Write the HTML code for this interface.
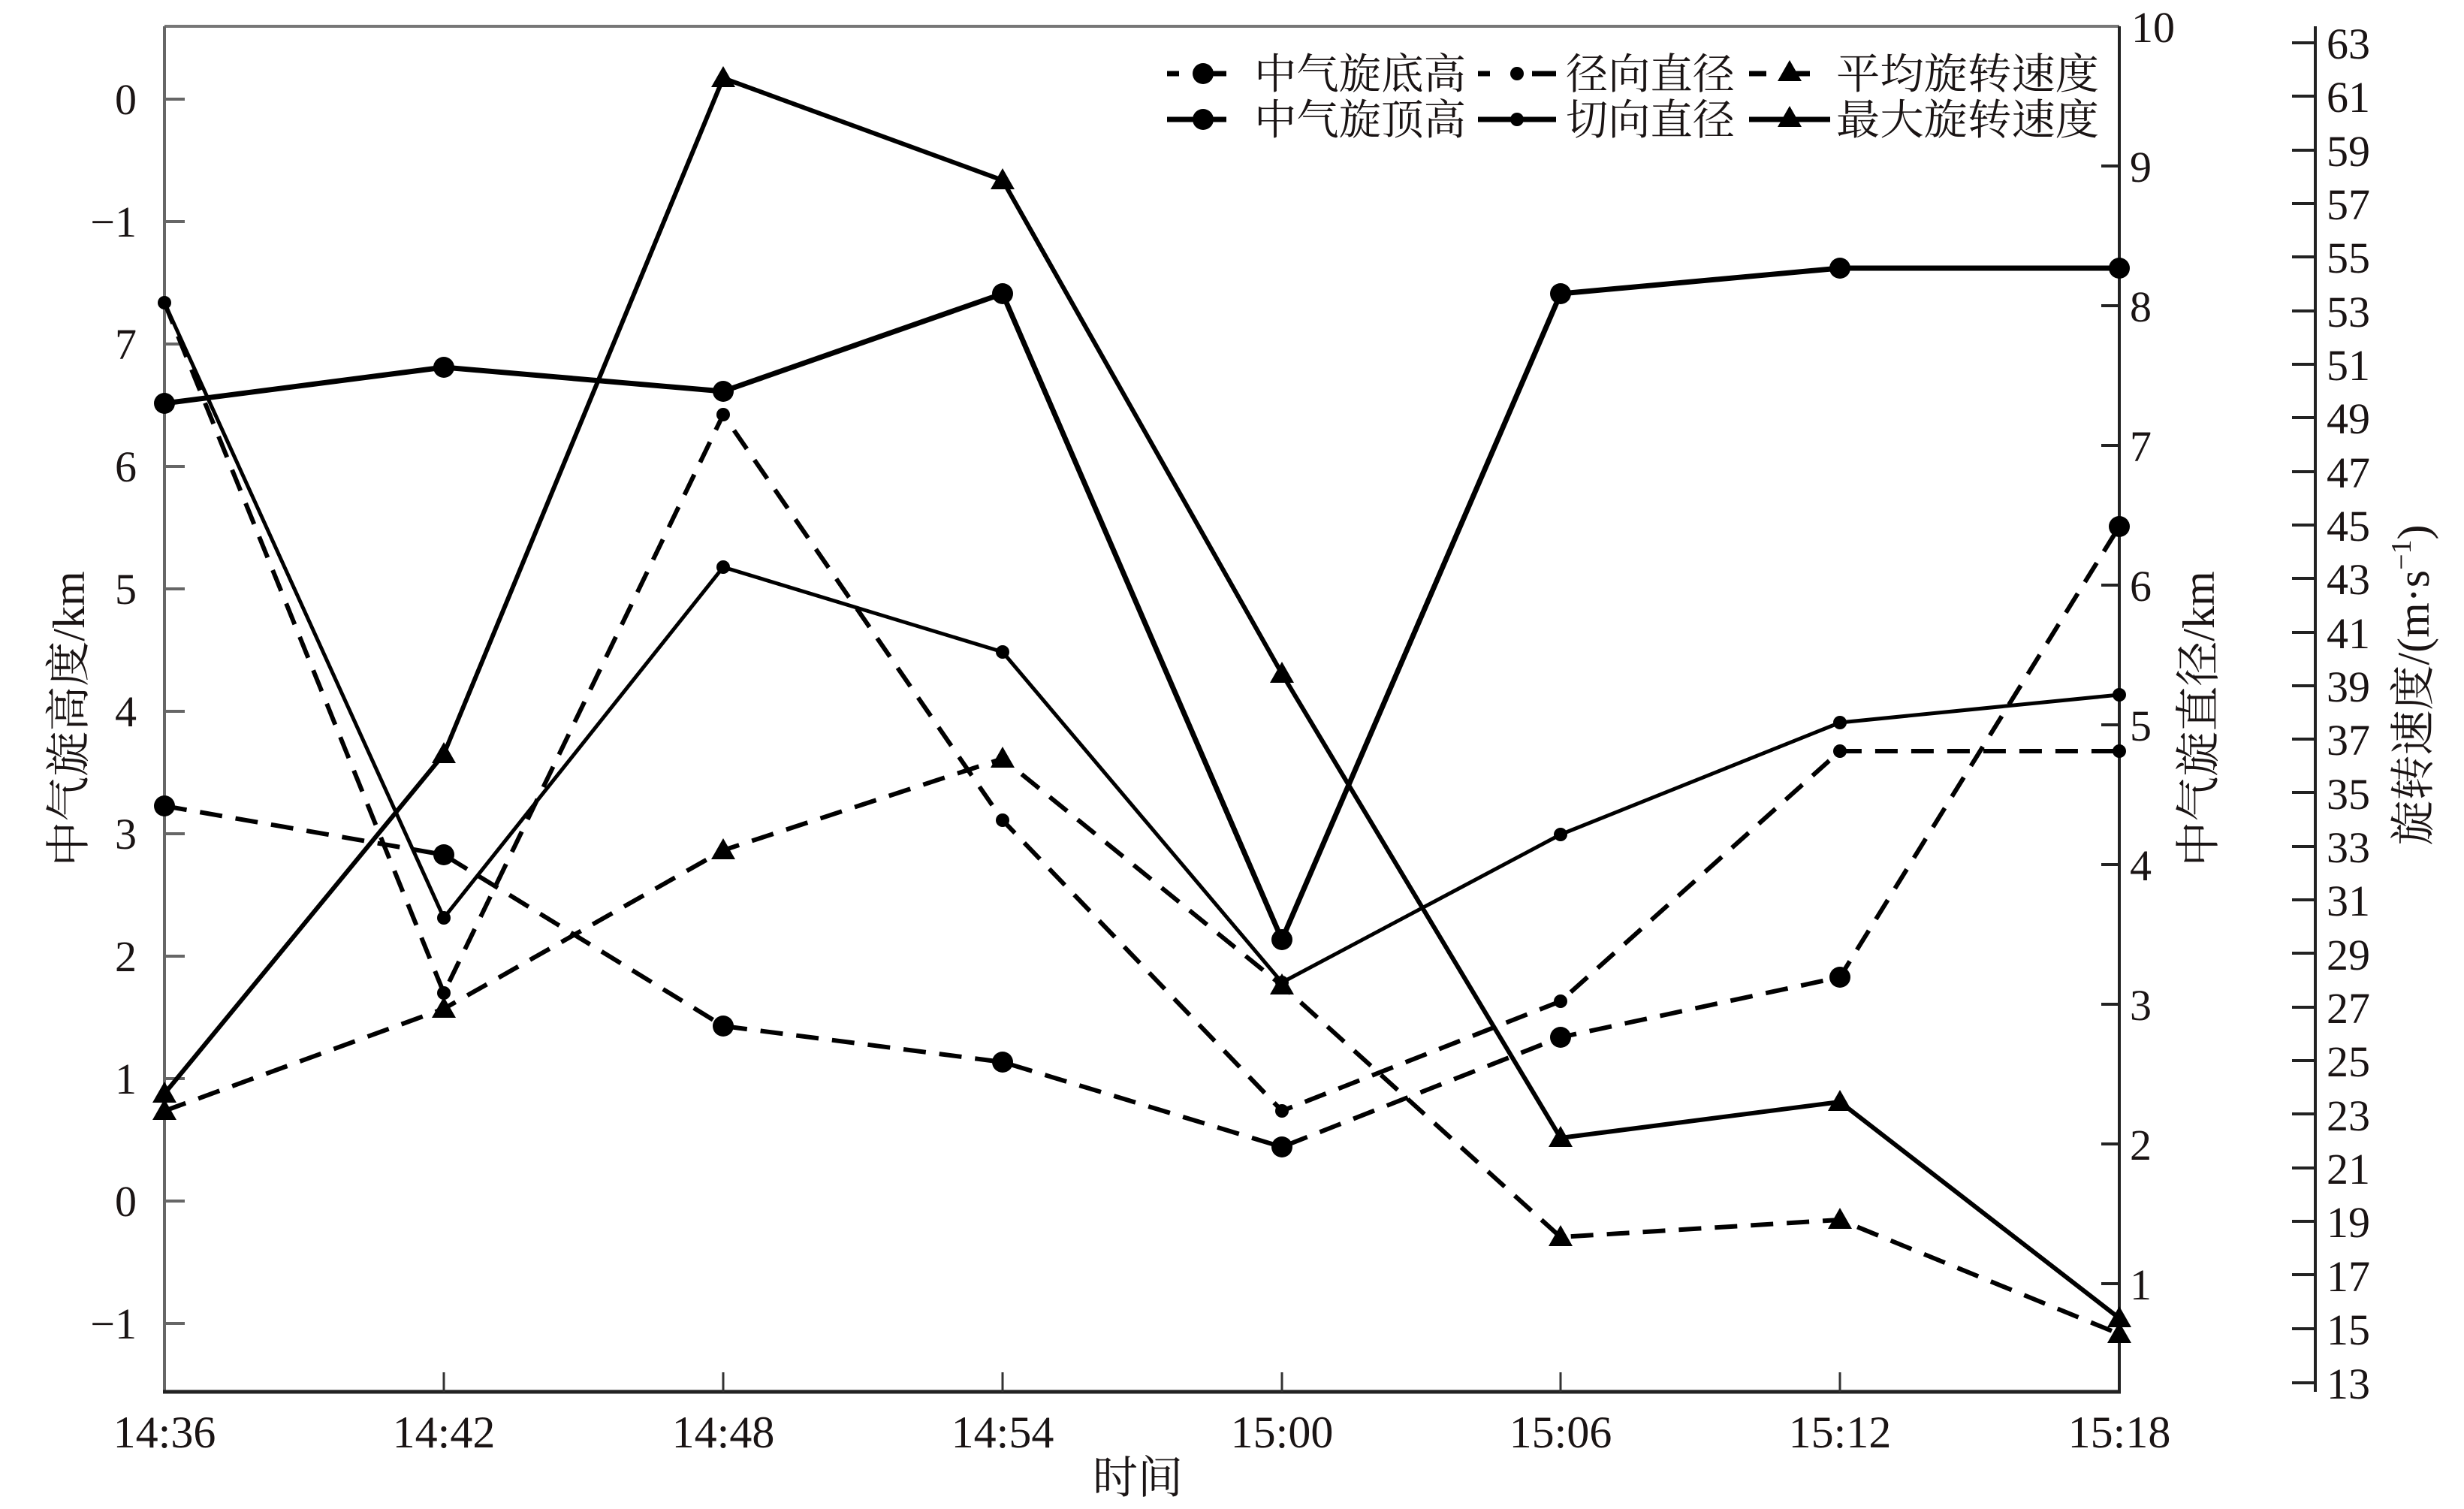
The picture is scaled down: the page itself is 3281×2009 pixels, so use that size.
<!DOCTYPE html>
<html><head><meta charset="utf-8"><style>
html,body{margin:0;padding:0;background:#fff;}
svg{display:block;}
text{font-family:"Liberation Serif","Noto Serif CJK SC","Noto Sans CJK SC",serif;fill:#1a1414;}
</style></head><body>
<svg width="3281" height="2009" viewBox="0 0 3281 2009" xmlns="http://www.w3.org/2000/svg">
<rect width="3281" height="2009" fill="#fff"/>
<line x1="219" y1="35" x2="2822" y2="35" stroke="#777" stroke-width="4"/>
<line x1="219" y1="35" x2="219" y2="1853" stroke="#666" stroke-width="4"/>
<line x1="217" y1="1853" x2="2824" y2="1853" stroke="#222" stroke-width="5"/>
<line x1="2822" y1="35" x2="2822" y2="1853" stroke="#222" stroke-width="4"/>
<line x1="3083" y1="35" x2="3083" y2="1853" stroke="#222" stroke-width="4"/>
<g stroke="#666" stroke-width="4">
<line x1="219" y1="132" x2="246" y2="132"/><line x1="219" y1="295" x2="246" y2="295"/>
<line x1="219" y1="458" x2="246" y2="458"/><line x1="219" y1="621" x2="246" y2="621"/>
<line x1="219" y1="784" x2="246" y2="784"/><line x1="219" y1="947" x2="246" y2="947"/>
<line x1="219" y1="1110" x2="246" y2="1110"/><line x1="219" y1="1273" x2="246" y2="1273"/>
<line x1="219" y1="1436" x2="246" y2="1436"/><line x1="219" y1="1599" x2="246" y2="1599"/>
<line x1="219" y1="1762" x2="246" y2="1762"/>
</g>
<g font-size="58" text-anchor="end">
<text x="182" y="152">0</text><text x="182" y="315">−1</text><text x="182" y="478">7</text>
<text x="182" y="641">6</text><text x="182" y="804">5</text><text x="182" y="967">4</text>
<text x="182" y="1130">3</text><text x="182" y="1293">2</text><text x="182" y="1456">1</text>
<text x="182" y="1619">0</text><text x="182" y="1782">−1</text>
</g>
<g stroke="#333" stroke-width="3">
<line x1="591" y1="1853" x2="591" y2="1827"/><line x1="963" y1="1853" x2="963" y2="1827"/>
<line x1="1335" y1="1853" x2="1335" y2="1827"/><line x1="1707" y1="1853" x2="1707" y2="1827"/>
<line x1="2078" y1="1853" x2="2078" y2="1827"/><line x1="2450" y1="1853" x2="2450" y2="1827"/>
</g>
<g font-size="60" text-anchor="middle">
<text x="219" y="1927">14:36</text><text x="591" y="1927">14:42</text><text x="963" y="1927">14:48</text>
<text x="1335" y="1927">14:54</text><text x="1707" y="1927">15:00</text><text x="2078" y="1927">15:06</text>
<text x="2450" y="1927">15:12</text><text x="2822" y="1927">15:18</text>
</g>
<text x="1515" y="1988" font-size="60" text-anchor="middle">时间</text>
<g stroke="#222" stroke-width="4">
<line x1="2822" y1="221" x2="2798" y2="221"/><line x1="2822" y1="407" x2="2798" y2="407"/>
<line x1="2822" y1="593" x2="2798" y2="593"/><line x1="2822" y1="779" x2="2798" y2="779"/>
<line x1="2822" y1="965" x2="2798" y2="965"/><line x1="2822" y1="1151" x2="2798" y2="1151"/>
<line x1="2822" y1="1337" x2="2798" y2="1337"/><line x1="2822" y1="1523" x2="2798" y2="1523"/>
<line x1="2822" y1="1709" x2="2798" y2="1709"/>
</g>
<g font-size="58">
<text x="2838" y="56">10</text><text x="2836" y="242">9</text><text x="2836" y="428">8</text>
<text x="2836" y="614">7</text><text x="2836" y="800">6</text><text x="2836" y="986">5</text>
<text x="2836" y="1172">4</text><text x="2836" y="1358">3</text><text x="2836" y="1544">2</text>
<text x="2836" y="1730">1</text>
</g>
<g stroke="#222" stroke-width="4">
<line x1="3083" y1="57" x2="3052" y2="57"/><line x1="3083" y1="128" x2="3052" y2="128"/>
<line x1="3083" y1="200" x2="3052" y2="200"/><line x1="3083" y1="271" x2="3052" y2="271"/>
<line x1="3083" y1="342" x2="3052" y2="342"/><line x1="3083" y1="414" x2="3052" y2="414"/>
<line x1="3083" y1="485" x2="3052" y2="485"/><line x1="3083" y1="556" x2="3052" y2="556"/>
<line x1="3083" y1="628" x2="3052" y2="628"/><line x1="3083" y1="699" x2="3052" y2="699"/>
<line x1="3083" y1="770" x2="3052" y2="770"/><line x1="3083" y1="842" x2="3052" y2="842"/>
<line x1="3083" y1="913" x2="3052" y2="913"/><line x1="3083" y1="984" x2="3052" y2="984"/>
<line x1="3083" y1="1055" x2="3052" y2="1055"/><line x1="3083" y1="1127" x2="3052" y2="1127"/>
<line x1="3083" y1="1198" x2="3052" y2="1198"/><line x1="3083" y1="1269" x2="3052" y2="1269"/>
<line x1="3083" y1="1341" x2="3052" y2="1341"/><line x1="3083" y1="1412" x2="3052" y2="1412"/>
<line x1="3083" y1="1483" x2="3052" y2="1483"/><line x1="3083" y1="1555" x2="3052" y2="1555"/>
<line x1="3083" y1="1626" x2="3052" y2="1626"/><line x1="3083" y1="1697" x2="3052" y2="1697"/>
<line x1="3083" y1="1769" x2="3052" y2="1769"/><line x1="3083" y1="1841" x2="3052" y2="1841"/>
</g>
<g font-size="58">
<text x="3098" y="78">63</text><text x="3098" y="149">61</text><text x="3098" y="221">59</text>
<text x="3098" y="292">57</text><text x="3098" y="363">55</text><text x="3098" y="435">53</text>
<text x="3098" y="506">51</text><text x="3098" y="577">49</text><text x="3098" y="649">47</text>
<text x="3098" y="720">45</text><text x="3098" y="791">43</text><text x="3098" y="863">41</text>
<text x="3098" y="934">39</text><text x="3098" y="1005">37</text><text x="3098" y="1077">35</text>
<text x="3098" y="1148">33</text><text x="3098" y="1219">31</text><text x="3098" y="1291">29</text>
<text x="3098" y="1362">27</text><text x="3098" y="1433">25</text><text x="3098" y="1505">23</text>
<text x="3098" y="1576">21</text><text x="3098" y="1647">19</text><text x="3098" y="1719">17</text>
<text x="3098" y="1790">15</text><text x="3098" y="1862">13</text>
</g>
<text transform="translate(112,957) rotate(-90)" font-size="60" text-anchor="middle">中气旋高度/km</text>
<text transform="translate(2948,957) rotate(-90)" font-size="60" text-anchor="middle">中气旋直径/km</text>
<text transform="translate(3234,912) rotate(-90)" font-size="60" text-anchor="middle">旋转速度/(m·s<tspan font-size="38" dy="-24">−1</tspan><tspan dy="24">)</tspan></text>
<g fill="none" stroke="#000" stroke-linejoin="round">
<polyline stroke-width="6" stroke-dasharray="30,18" points="219,1073 591,1138 963,1366 1335,1414 1707,1527 2078,1381 2450,1301 2822,701"/>
<polyline stroke-width="7" points="219,537 591,489 963,521 1335,391 1707,1251 2078,391 2450,357 2822,357"/>
<polyline stroke-width="6" stroke-dasharray="30,18" points="219,403 591,1322 963,552 1335,1092 1707,1479 2078,1333 2450,1000 2822,1000"/>
<polyline stroke-width="5" points="219,403 591,1222 963,755 1335,868 1707,1308 2078,1111 2450,962 2822,925"/>
<polyline stroke-width="6" stroke-dasharray="30,18" points="219,1479 591,1343 963,1132 1335,1010 1707,1312 2078,1647 2450,1624 2822,1776"/>
<polyline stroke-width="6" points="219,1456 591,1004 963,104 1335,240 1707,897 2078,1515 2450,1467 2822,1755"/>
</g>
<g fill="#000">
<circle cx="219" cy="1073" r="14"/><circle cx="591" cy="1138" r="14"/><circle cx="963" cy="1366" r="14"/><circle cx="1335" cy="1414" r="14"/><circle cx="1707" cy="1527" r="14"/><circle cx="2078" cy="1381" r="14"/><circle cx="2450" cy="1301" r="14"/><circle cx="2822" cy="701" r="14"/>
<circle cx="219" cy="537" r="14"/><circle cx="591" cy="489" r="14"/><circle cx="963" cy="521" r="14"/><circle cx="1335" cy="391" r="14"/><circle cx="1707" cy="1251" r="14"/><circle cx="2078" cy="391" r="14"/><circle cx="2450" cy="357" r="14"/><circle cx="2822" cy="357" r="14"/>
<circle cx="219" cy="403" r="9"/><circle cx="591" cy="1322" r="9"/><circle cx="963" cy="552" r="9"/><circle cx="1335" cy="1092" r="9"/><circle cx="1707" cy="1479" r="9"/><circle cx="2078" cy="1333" r="9"/><circle cx="2450" cy="1000" r="9"/><circle cx="2822" cy="1000" r="9"/>
<circle cx="591" cy="1222" r="9"/><circle cx="963" cy="755" r="9"/><circle cx="1335" cy="868" r="9"/><circle cx="1707" cy="1308" r="9"/><circle cx="2078" cy="1111" r="9"/><circle cx="2450" cy="962" r="9"/><circle cx="2822" cy="925" r="9"/>
<polygon points="219,1463 203,1491 235,1491"/><polygon points="591,1327 575,1355 607,1355"/><polygon points="963,1116 947,1144 979,1144"/><polygon points="1335,994 1319,1022 1351,1022"/><polygon points="1707,1296 1691,1324 1723,1324"/><polygon points="2078,1631 2062,1659 2094,1659"/><polygon points="2450,1608 2434,1636 2466,1636"/><polygon points="2822,1760 2806,1788 2838,1788"/>
<polygon points="219,1440 203,1468 235,1468"/><polygon points="591,988 575,1016 607,1016"/><polygon points="963,88 947,116 979,116"/><polygon points="1335,224 1319,252 1351,252"/><polygon points="1707,881 1691,909 1723,909"/><polygon points="2078,1499 2062,1527 2094,1527"/><polygon points="2450,1451 2434,1479 2466,1479"/><polygon points="2822,1739 2806,1767 2838,1767"/>
</g>
<g stroke="#000" stroke-width="7">
<line x1="1554" y1="98" x2="1570" y2="98"/><line x1="1614" y1="98" x2="1633" y2="98"/>
<line x1="1554" y1="159" x2="1633" y2="159"/>
<line x1="1968" y1="98" x2="1984" y2="98"/><line x1="2040" y1="98" x2="2072" y2="98"/>
<line x1="1968" y1="159" x2="2072" y2="159"/>
<line x1="2329" y1="98" x2="2352" y2="98"/><line x1="2380" y1="98" x2="2410" y2="98"/>
<line x1="2329" y1="159" x2="2437" y2="159"/>
</g>
<g fill="#000">
<circle cx="1602" cy="98" r="14"/><circle cx="1602" cy="159" r="14"/>
<circle cx="2020" cy="98" r="9"/><circle cx="2020" cy="159" r="9"/>
<polygon points="2383,80 2367,108 2399,108"/><polygon points="2383,141 2367,169 2399,169"/>
</g>
<g font-size="56">
<text x="1670" y="118" textLength="282" lengthAdjust="spacingAndGlyphs">中气旋底高</text>
<text x="1670" y="179" textLength="282" lengthAdjust="spacingAndGlyphs">中气旋顶高</text>
<text x="2085" y="118" textLength="225" lengthAdjust="spacingAndGlyphs">径向直径</text>
<text x="2085" y="179" textLength="225" lengthAdjust="spacingAndGlyphs">切向直径</text>
<text x="2445" y="118" textLength="350" lengthAdjust="spacingAndGlyphs">平均旋转速度</text>
<text x="2445" y="179" textLength="350" lengthAdjust="spacingAndGlyphs">最大旋转速度</text>
</g>
</svg>
</body></html>
